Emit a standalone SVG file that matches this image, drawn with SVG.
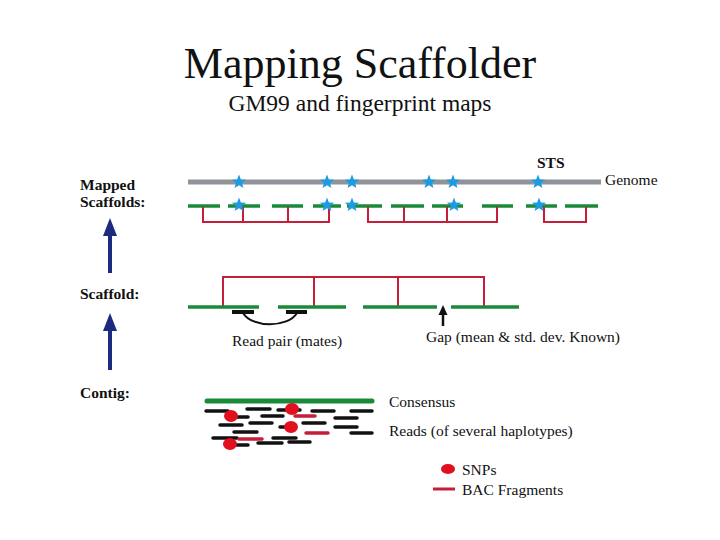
<svg xmlns="http://www.w3.org/2000/svg" xmlns:xlink="http://www.w3.org/1999/xlink" width="720" height="540" viewBox="0 0 720 540">
<style>
text{font-family:"Liberation Serif","Times New Roman",serif;fill:#111}
.lbl{font-size:15.5px}
.b{font-weight:bold}
.genome{stroke:#8e949a;stroke-width:5;fill:none}
.ctg{stroke:#1a8a3a;stroke-width:3.5;fill:none}
.red{stroke:#c41e3a;stroke-width:2;fill:none}
.read{stroke:#111;stroke-width:3.5;stroke-linecap:round;fill:none}
.bac{stroke:#c41e3a;stroke-width:3.5;stroke-linecap:round;fill:none}
.snp{fill:#e0101e}
.star{fill:#1e9be0}
.blue{stroke:#1c2a80;stroke-width:4;fill:none}
.bluehead{fill:#1c2a80}
</style>
<defs>
<polygon id="star" class="star" points="0,-7.5 1.88,-2.59 7.13,-2.32 3.04,0.99 4.41,6.07 0,3.2 -4.41,6.07 -3.04,0.99 -7.13,-2.32 -1.88,-2.59"/>
</defs>
<rect width="720" height="540" fill="#fff"/>
<g id="title">
<text x="360" y="78" text-anchor="middle" style="font-size:44px">Mapping Scaffolder</text>
<text x="360" y="111" text-anchor="middle" style="font-size:23.5px">GM99 and fingerprint maps</text>
</g>
<g id="labels">
<text class="lbl b" x="80" y="190">Mapped</text>
<text class="lbl b" x="80" y="207">Scaffolds:</text>
<text class="lbl b" x="80" y="299">Scaffold:</text>
<text class="lbl b" x="80" y="398">Contig:</text>
</g>
<g id="connectors">
<line class="blue" x1="110" y1="273" x2="110" y2="232"/>
<polygon class="bluehead" points="110,218 117,236 103,236"/>
<line class="blue" x1="110" y1="370" x2="110" y2="327"/>
<polygon class="bluehead" points="110,313 117,331 103,331"/>
</g>
<g id="mapped-scaffolds">
<line class="genome" x1="188" y1="182" x2="601" y2="182"/>
<text class="lbl" x="605" y="185">Genome</text>
<text class="lbl b" x="537" y="168">STS</text>
<g class="ctg">
<line x1="188" y1="206" x2="220" y2="206"/><line x1="228" y1="206" x2="260" y2="206"/>
<line x1="272" y1="206" x2="303" y2="206"/><line x1="313" y1="206" x2="341" y2="206"/>
<line x1="347" y1="206" x2="382" y2="206"/><line x1="391" y1="206" x2="424" y2="206"/>
<line x1="432" y1="206" x2="463" y2="206"/><line x1="482" y1="206" x2="513" y2="206"/>
<line x1="526" y1="206" x2="557" y2="206"/><line x1="565" y1="206" x2="598" y2="206"/>
</g>
<path class="red" d="M203,207 V222 H329 V207 M243,207 V222 M288,207 V222"/>
<path class="red" d="M368,207 V222 H497 V207 M404,207 V222 M447,207 V222"/>
<path class="red" d="M544,207 V222 H586 V207"/>
<use xlink:href="#star" x="239" y="182"/><use xlink:href="#star" x="327" y="182"/>
<use xlink:href="#star" x="352" y="182"/><use xlink:href="#star" x="429" y="182"/>
<use xlink:href="#star" x="453" y="182"/><use xlink:href="#star" x="538" y="182"/>
<use xlink:href="#star" x="239" y="205"/><use xlink:href="#star" x="327" y="205"/>
<use xlink:href="#star" x="352" y="205"/><use xlink:href="#star" x="454" y="205"/>
<use xlink:href="#star" x="539" y="205"/>
</g>
<g id="scaffold">
<path class="red" d="M223,307 V277 H484 V307 M314,277 V307 M398,277 V307"/>
<g class="ctg">
<line x1="188" y1="307" x2="259" y2="307"/><line x1="278" y1="307" x2="346" y2="307"/>
<line x1="363" y1="307" x2="437" y2="307"/><line x1="451" y1="307" x2="519" y2="307"/>
</g>
<line x1="232" y1="312" x2="254" y2="312" stroke="#111" stroke-width="4"/>
<line x1="286" y1="312" x2="307" y2="312" stroke="#111" stroke-width="4"/>
<path d="M243,313 C252,328 288,328 297,313" stroke="#111" stroke-width="2" fill="none"/>
<text class="lbl" x="232" y="346">Read pair (mates)</text>
<line x1="443" y1="326" x2="443" y2="312" stroke="#111" stroke-width="2.5"/>
<polygon points="443,305 447.5,315 438.5,315" fill="#111"/>
<text class="lbl" x="426" y="342">Gap (mean &amp; std. dev. Known)</text>
</g>
<g id="contig">
<line x1="207" y1="401" x2="372" y2="401" stroke="#1a8a3a" stroke-width="5" stroke-linecap="round"/>
<g class="read">
<line x1="206" y1="411" x2="228" y2="411"/><line x1="247" y1="409" x2="270" y2="409"/>
<line x1="278" y1="410" x2="300" y2="410"/><line x1="312" y1="411" x2="334" y2="411"/>
<line x1="351" y1="411" x2="372" y2="411"/>
<line x1="233" y1="417" x2="248" y2="417"/><line x1="262" y1="416" x2="283" y2="416"/>
<line x1="335" y1="418" x2="357" y2="418"/>
<line x1="220" y1="425" x2="242" y2="425"/><line x1="250" y1="423" x2="272" y2="423"/>
<line x1="303" y1="423" x2="325" y2="423"/>
<line x1="280" y1="427" x2="295" y2="427"/><line x1="335" y1="427" x2="357" y2="427"/>
<line x1="234" y1="432" x2="257" y2="432"/><line x1="351" y1="433" x2="372" y2="433"/>
<line x1="213" y1="438" x2="237" y2="438"/><line x1="273" y1="438" x2="296" y2="438"/>
<line x1="231" y1="445" x2="248" y2="445"/><line x1="258" y1="443" x2="282" y2="443"/>
<line x1="289" y1="442" x2="310" y2="442"/>
</g>
<g class="bac">
<line x1="295" y1="416" x2="315" y2="416"/><line x1="306" y1="433" x2="328" y2="433"/>
<line x1="239" y1="439" x2="262" y2="439"/>
</g>
<ellipse class="snp" cx="292" cy="409" rx="7" ry="6"/>
<ellipse class="snp" cx="231" cy="416" rx="7" ry="6"/>
<ellipse class="snp" cx="291" cy="427" rx="7" ry="6"/>
<ellipse class="snp" cx="230" cy="444" rx="7" ry="6"/>
<text class="lbl" x="389" y="407">Consensus</text>
<text class="lbl" x="389" y="436">Reads (of several haplotypes)</text>
</g>
<g id="legend">
<ellipse class="snp" cx="448" cy="469" rx="7" ry="5"/>
<text class="lbl" x="462" y="475">SNPs</text>
<line x1="433" y1="489" x2="455" y2="489" stroke="#c41e3a" stroke-width="3"/>
<text class="lbl" x="462" y="495">BAC Fragments</text>
</g>
</svg>
